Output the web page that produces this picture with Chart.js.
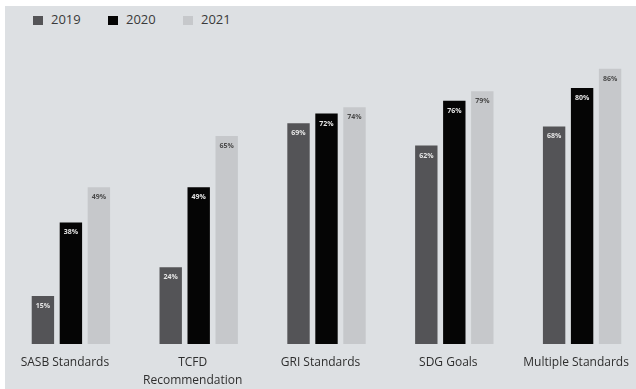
<!DOCTYPE html>
<html>
<head>
<meta charset="utf-8">
<script src="https://cdn.jsdelivr.net/npm/chart.js@4"></script>
<style>
  html, body { margin: 0; padding: 0; background: #fff; overflow: hidden; }
  body { width: 636px; height: 389px; position: relative; font-family: "Open Sans", sans-serif; }
  #panel { position: absolute; left: 5px; top: 6px; right: 0; bottom: 0; background: #dde0e3; }
  #wrap { position: absolute; left: 0; top: 0; width: 650px; height: 400px; }
  #legend { position: absolute; left: 33px; top: 11px; font-size: 13px; color: #3a3a3a; }
  #legend span.item { position: absolute; white-space: nowrap; line-height: 16px; }
  #legend i { display: inline-block; width: 10px; height: 9px; vertical-align: -1px; margin-right: 8px; }
</style>
</head>
<body>
<div id="panel"></div>
<div id="legend"></div>
<div id="wrap"><canvas id="barChart"></canvas></div>
<script>
  // chart data
  const categories = ['SASB Standards', ['TCFD', 'Recommendation'], 'GRI Standards', 'SDG Goals', 'Multiple Standards'];
  const seriesNames = ['2019', '2020', '2021'];
  const values2019 = [15, 24, 69, 62, 68];
  const values2020 = [38, 49, 72, 76, 80];
  const values2021 = [49, 65, 74, 79, 86];

  const barColors = ['#545457', '#050505', '#c6c8cb'];
  const labelColors = ['#e6e6e6', '#e6e6e6', '#4a4a4a'];

  // legend built from the series
  const legendEl = document.getElementById('legend');
  const legendOffsets = [0, 75, 150];
  seriesNames.forEach((name, i) => {
    const item = document.createElement('span');
    item.className = 'item';
    item.style.left = legendOffsets[i] + 'px';
    item.innerHTML = '<i style="background:' + barColors[i] + '"></i>' + name;
    legendEl.appendChild(item);
  });

  // draws the value text inside the top of each bar
  const barValueLabels = {
    id: 'barValueLabels',
    afterDatasetsDraw(chart) {
      const ctx = chart.ctx;
      ctx.save();
      ctx.font = 'bold 7px "Open Sans", sans-serif';
      ctx.textAlign = 'center';
      ctx.textBaseline = 'middle';
      chart.data.datasets.forEach((ds, i) => {
        const meta = chart.getDatasetMeta(i);
        ctx.fillStyle = labelColors[i];
        meta.data.forEach((bar, j) => {
          ctx.fillText(ds.data[j] + '%', bar.x, bar.y + 10);
        });
      });
      ctx.restore();
    }
  };

  const allValues = [values2019, values2020, values2021];

  new Chart(document.getElementById('barChart').getContext('2d'), {
    type: 'bar',
    data: {
      labels: categories,
      datasets: seriesNames.map((name, i) => ({
        label: name,
        data: allValues[i],
        backgroundColor: barColors[i],
        borderWidth: 0,
        categoryPercentage: 0.657,
        barPercentage: 0.8
      }))
    },
    options: {
      responsive: true,
      maintainAspectRatio: false,
      animation: false,
      layout: { padding: { left: 7, right: 4, top: 24, bottom: 0 } },
      plugins: {
        legend: { display: false },
        tooltip: { enabled: false }
      },
      scales: {
        x: {
          grid: { display: false, drawTicks: false },
          border: { display: false },
          ticks: {
            color: '#2e2e2e',
            font: { family: '"Open Sans", sans-serif', size: 12, lineHeight: 1.5 },
            padding: 10,
            labelOffset: -6,
            maxRotation: 0,
            autoSkip: false
          }
        },
        y: {
          display: false,
          min: 0,
          max: 100
        }
      }
    },
    plugins: [barValueLabels]
  });
</script>
</body>
</html>
